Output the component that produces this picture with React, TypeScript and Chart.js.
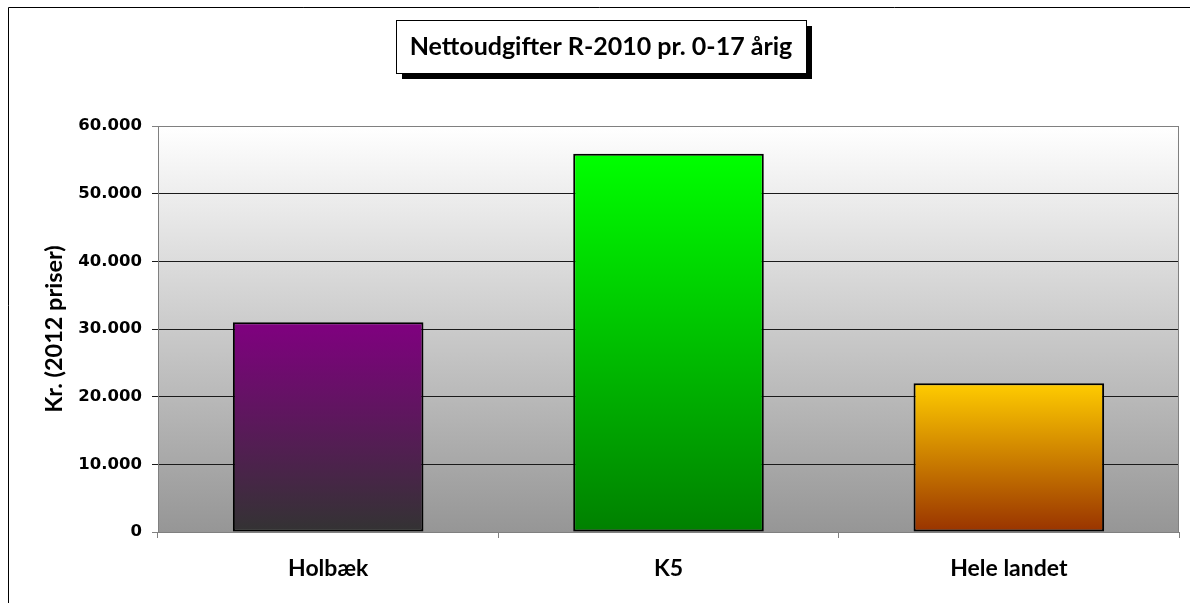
import React, { useEffect, useRef } from "react";
import { Chart, registerables } from "chart.js";

Chart.register(...registerables);

const categories = ["Holbæk", "K5", "Hele landet"];
const values = [31000, 55900, 22000];
const topColors = ["#800080", "#00ff00", "#ffcc00"];
const bottomColors = ["#333333", "#008000", "#993300"];
const yTicks = [0, 10000, 20000, 30000, 40000, 50000, 60000];
const titleText = "Nettoudgifter R-2010 pr. 0-17 årig";
const yTitle = "Kr. (2012 priser)";

const fmt = (v: number) => String(v).replace(/\B(?=(\d{3})+(?!\d))/g, ".");

const decorPlugin = {
  id: "decor",
  beforeDraw(chart: any) {
    const { ctx, chartArea: a } = chart;
    ctx.save();
    ctx.fillStyle = "#ffffff";
    ctx.fillRect(0, 0, chart.width, chart.height);
    const g = ctx.createLinearGradient(0, a.top, 0, a.bottom);
    g.addColorStop(0, "#ffffff");
    g.addColorStop(1, "#969696");
    ctx.fillStyle = g;
    ctx.fillRect(a.left, a.top, a.right - a.left, a.bottom - a.top);
    ctx.restore();
  },
  beforeDatasetsDraw(chart: any) {
    const { ctx, chartArea: a } = chart;
    ctx.save();
    ctx.strokeStyle = "#808080";
    ctx.lineWidth = 1;
    ctx.strokeRect(a.left + 0.5, a.top + 0.5, a.right - a.left - 1, a.bottom - a.top);
    ctx.restore();
  },
  afterDraw(chart: any) {
    const { ctx } = chart;
    ctx.save();
    // outer frame (left and top)
    ctx.strokeStyle = "#000000";
    ctx.lineWidth = 1;
    ctx.beginPath();
    ctx.moveTo(8.5, chart.height);
    ctx.lineTo(8.5, 7.5);
    ctx.lineTo(chart.width, 7.5);
    ctx.stroke();
    // title box with shadow
    const bx = 396, by = 20, bw = 410, bh = 53;
    ctx.fillStyle = "#000000";
    ctx.fillRect(bx + 6, by + 6, bw, bh);
    ctx.fillStyle = "#ffffff";
    ctx.fillRect(bx, by, bw, bh);
    ctx.strokeStyle = "#000000";
    ctx.strokeRect(bx + 0.5, by + 0.5, bw, bh);
    ctx.fillStyle = "#000000";
    ctx.font = "bold 25px Lato";
    ctx.textAlign = "center";
    ctx.textBaseline = "alphabetic";
    ctx.fillText(titleText, bx + bw / 2, 55);
    ctx.restore();
  },
};

export default function App() {
  const ref = useRef<HTMLCanvasElement | null>(null);
  useEffect(() => {
    if (!ref.current) return;
    const chart = new Chart(ref.current, {
      type: "bar",
      data: {
        labels: categories,
        datasets: [
          {
            data: values,
            backgroundColor: (c: any) => {
              const ch = c.chart;
              const i = c.dataIndex ?? 0;
              if (!ch.chartArea || c.type !== "data" || !ch.scales.y) return topColors[i];
              const ys = ch.scales.y;
              const top = ys.getPixelForValue(values[i]);
              const bottom = ys.getPixelForValue(0);
              const g = ch.ctx.createLinearGradient(0, top, 0, bottom);
              g.addColorStop(0, topColors[i]);
              g.addColorStop(1, bottomColors[i]);
              return g;
            },
            borderColor: "#000000",
            borderWidth: 2,
            borderSkipped: false,
            barPercentage: 0.56,
            categoryPercentage: 1,
          },
        ],
      },
      options: {
        animation: false,
        responsive: false,
        devicePixelRatio: 1,
        layout: { padding: { left: 8, right: 11, top: 126, bottom: 0 } },
        plugins: { legend: { display: false }, tooltip: { enabled: false }, title: { display: false } },
        scales: {
          x: {
            afterFit: (s: any) => { s.height = 71; },
            grid: { drawOnChartArea: false, tickLength: 6, color: "#808080", offset: true },
            border: { color: "#808080" },
            ticks: { color: "#000000", font: { family: "Lato", weight: "bold", size: 23 }, padding: 17 },
          },
          y: {
            min: 0,
            max: 60000,
            afterFit: (s: any) => { s.width = 150; },
            afterBuildTicks: (s: any) => { s.ticks = yTicks.map((v) => ({ value: v })); },
            grid: {
              tickLength: 6,
              color: (c: any) => (c.tick && (c.tick.value === 0 || c.tick.value === 60000) ? "#808080" : "#1a1a1a"),
            },
            border: { color: "#808080" },
            ticks: {
              color: "#000000",
              font: { family: "DejaVu Sans", weight: "bold", size: 16.5 },
              padding: 10,
              callback: (v: any) => fmt(Number(v)),
            },
            title: {
              display: true,
              text: yTitle,
              color: "#000000",
              font: { family: "Lato", weight: "bold", size: 23.5 },
              padding: { top: 32, bottom: 0 },
            },
          },
        },
      },
      plugins: [decorPlugin],
    });
    return () => chart.destroy();
  }, []);
  return (
    <canvas
      ref={ref}
      width={1190}
      height={603}
      style={{ position: "fixed", left: 0, top: 0, width: 1190, height: 603 }}
    />
  );
}
